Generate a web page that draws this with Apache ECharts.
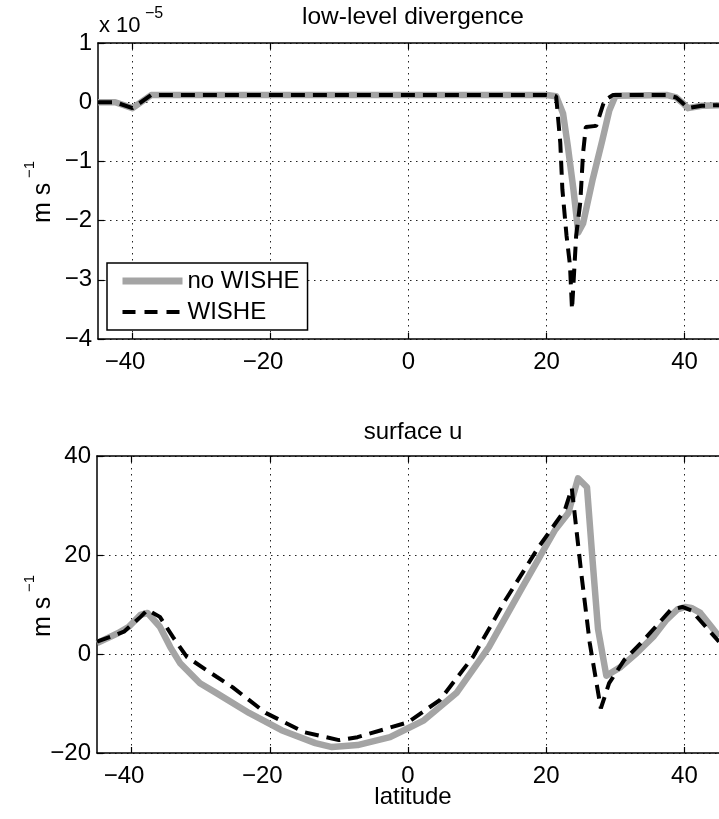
<!DOCTYPE html>
<html><head><meta charset="utf-8">
<script src="https://cdn.jsdelivr.net/npm/echarts@6/dist/echarts.min.js"></script>
<style>html,body{margin:0;padding:0;background:#fff}#c{width:719px;height:819px}</style>
</head><body><div id="c"></div>
<script>
// ---- tick labels ----
const latTicks = [-40, -20, 0, 20, 40];
const divTicks = [1, 0, -1, -2, -3, -4];
const uTicks = [40, 20, 0, -20];

// ---- low-level divergence (units of 1e-5) ----
const divLatNoWishe = [-45, -42.5, -40, -37.3, -36, 20, 21.4, 22.4, 23.1, 23.9, 24.6, 25.3, 26.7, 28.1, 29.1, 30, 37.5, 38.8, 39.6, 40.5, 42.5, 45];
const divNoWishe    = [0, 0, -0.1, 0.12, 0.12, 0.12, 0.1, -0.19, -0.75, -1.47, -2.2, -2.05, -1.3, -0.64, -0.14, 0.11, 0.12, 0.08, 0, -0.1, -0.06, -0.05];
const divLatWishe   = [-45, -42.5, -40, -37.3, -36, 20, 21.4, 22, 22.3, 22.9, 23.4, 23.7, 24.3, 24.9, 25.3, 25.7, 27.2, 28.4, 29.6, 37.5, 38.8, 39.6, 40.5, 42.5, 45];
const divWishe      = [0, 0, -0.1, 0.12, 0.12, 0.12, 0.1, -0.69, -1.47, -2.25, -2.75, -3.5, -2.25, -1.69, -0.86, -0.42, -0.4, 0.03, 0.12, 0.12, 0.08, 0, -0.1, -0.06, -0.05];

// ---- surface u (m s-1) ----
const uLatNoWishe = [-45, -42, -40.4, -38.7, -37.7, -35.9, -34.4, -33, -30.1, -27.7, -23, -18.3, -13.4, -11, -7.3, -2.6, 0, 2.3, 7, 11.7, 16.6, 21.3, 23.2, 24.6, 25.9, 26.7, 27.5, 28.7, 30.8, 33.1, 35.5, 37.4, 39, 40.1, 41, 42.3, 43.9, 45];
const uNoWishe    = [2.2, 4.2, 5.5, 7.9, 8.3, 5.5, 1.4, -1.8, -5.9, -7.9, -11.9, -15.4, -18, -18.8, -18.4, -16.8, -15, -13.4, -7.9, 1.4, 13.6, 25.1, 28.5, 35.5, 33.7, 19, 5, -4.4, -2.6, 0.2, 3.5, 6.9, 9, 9.5, 9.3, 8.3, 5.5, 3.5];
const uLatWishe   = [-45, -41.1, -38.7, -37.7, -35.9, -34, -32, -27.7, -25.4, -20.6, -15, -10, -7.3, 0, 4.6, 9.4, 14.1, 18.9, 22.7, 23.7, 25.1, 26.3, 27.9, 29.1, 31.3, 34.1, 38, 39.7, 41, 43.9, 45];
const uWishe      = [2.5, 4.5, 7.5, 8.9, 7.5, 3.4, -0.6, -4.6, -6.7, -11.9, -15.8, -17.4, -16.8, -13.8, -9.3, -0.6, 10.9, 21.6, 29.1, 33.5, 16, 2.2, -11, -5.9, -1.2, 2.8, 8.9, 9.5, 8.8, 4.2, 2.5];

const FONT = 'Liberation Sans';
const zip = (a, b) => a.map((x, i) => [x, b[i]]);
const minus = v => String(v).replace('-', '\u2212');
const GRAY = '#a4a4a4';
const tickFont = { color: '#000', fontFamily: FONT, fontSize: 24 };

function xAxes(grid) {
  return [
    { gridIndex: grid, type: 'value', min: -45, max: 45, position: 'bottom',
      axisLine: { onZero: false, lineStyle: { color: '#000', width: 1.5 } },
      axisTick: { inside: true, length: 6, customValues: latTicks, lineStyle: { color: '#000', width: 1.2 } },
      axisLabel: { customValues: latTicks, margin: 11, ...tickFont,
        formatter: v => v < 0 ? '{neg|' + minus(v) + '}' : '{pos|' + v + '}',
        rich: { neg: { ...tickFont, padding: [0, 15, 0, 0] }, pos: { ...tickFont } } },
      splitLine: { show: true, lineStyle: { color: '#222', type: [1.5, 4.5], width: 1 } } },
    { gridIndex: grid, type: 'value', min: -45, max: 45, position: 'top',
      axisLine: { onZero: false, lineStyle: { color: '#000', width: 1.5 } },
      axisTick: { inside: true, length: 6, customValues: latTicks, lineStyle: { color: '#000', width: 1.2 } },
      axisLabel: { show: false }, splitLine: { show: false } }
  ];
}
function yAxis(grid, min, max, interval) {
  return { gridIndex: grid, type: 'value', min: min, max: max, interval: interval,
    axisLine: { show: true, onZero: false, lineStyle: { color: '#000', width: 1.5 } },
    axisTick: { show: true, inside: true, length: 6, lineStyle: { color: '#000', width: 1.2 } },
    axisLabel: { formatter: minus, ...tickFont, margin: 6 },
    splitLine: { show: true, lineStyle: { color: '#222', type: [1.5, 4.5], width: 1 } } };
}
const grayStyle = { color: GRAY, width: 6.5, join: 'round', cap: 'butt' };
const dashStyle = { color: '#000', width: 4, type: [14, 8], cap: 'butt' };

function unitLabel(cy) {
  return { type: 'group', x: 51, y: cy, rotation: Math.PI / 2, children: [
    { type: 'text', x: -32, y: -8, style: { text: 'm s', fontFamily: FONT, fontSize: 25, fill: '#000', align: 'left', verticalAlign: 'middle' } },
    { type: 'text', x: 13, y: -21, style: { text: '\u22121', fontFamily: FONT, fontSize: 15, fill: '#000', align: 'left', verticalAlign: 'middle' } }
  ] };
}

const chart = echarts.init(document.getElementById('c'), null, { renderer: 'canvas' });
chart.setOption({
  backgroundColor: '#fff',
  animation: false,
  grid: [
    { left: 98, top: 43, width: 630, height: 296 },
    { left: 97, top: 456, width: 630, height: 297 }
  ],
  xAxis: [...xAxes(0), ...xAxes(1)],
  yAxis: [yAxis(0, -4, 1, 1), yAxis(1, -20, 40, 20)],
  legend: {
    data: [
      { name: 'no WISHE', lineStyle: { color: GRAY, width: 7, type: 'solid' } },
      { name: 'WISHE', lineStyle: { color: '#000', width: 4, type: [13, 9] } }
    ],
    orient: 'vertical', left: 107, top: 263,
    itemWidth: 60, itemHeight: 10, itemGap: 7,
    padding: [6, 8, 6, 12],
    itemStyle: { opacity: 0 },
    borderColor: '#000', borderWidth: 1.5, backgroundColor: '#fff',
    textStyle: { color: '#000', fontFamily: FONT, fontSize: 24 }
  },
  graphic: [
    { type: 'text', x: 413, y: 17, style: { text: 'low-level divergence', fontFamily: FONT, fontSize: 24.5, fill: '#000', align: 'center', verticalAlign: 'middle' } },
    { type: 'text', x: 413, y: 432, style: { text: 'surface u', fontFamily: FONT, fontSize: 24, fill: '#000', align: 'center', verticalAlign: 'middle' } },
    { type: 'text', x: 413, y: 797, style: { text: 'latitude', fontFamily: FONT, fontSize: 24, fill: '#000', align: 'center', verticalAlign: 'middle' } },
    { type: 'text', x: 99, y: 26, style: { text: 'x 10', fontFamily: FONT, fontSize: 22, fill: '#000', align: 'left', verticalAlign: 'middle' } },
    { type: 'text', x: 145, y: 14, style: { text: '\u22125', fontFamily: FONT, fontSize: 16, fill: '#000', align: 'left', verticalAlign: 'middle' } },
    unitLabel(191),
    unitLabel(605)
  ],
  series: [
    { name: 'no WISHE', type: 'line', xAxisIndex: 0, yAxisIndex: 0, data: zip(divLatNoWishe, divNoWishe), symbol: 'none', lineStyle: grayStyle, itemStyle: { color: GRAY }, z: 2 },
    { name: 'WISHE', type: 'line', xAxisIndex: 0, yAxisIndex: 0, data: zip(divLatWishe, divWishe), symbol: 'none', lineStyle: dashStyle, itemStyle: { color: '#000' }, z: 3 },
    { name: 'no WISHE', type: 'line', xAxisIndex: 2, yAxisIndex: 1, data: zip(uLatNoWishe, uNoWishe), symbol: 'none', lineStyle: grayStyle, itemStyle: { color: GRAY }, z: 2 },
    { name: 'WISHE', type: 'line', xAxisIndex: 2, yAxisIndex: 1, data: zip(uLatWishe, uWishe), symbol: 'none', lineStyle: dashStyle, itemStyle: { color: '#000' }, z: 3 }
  ]
});
</script></body></html>
